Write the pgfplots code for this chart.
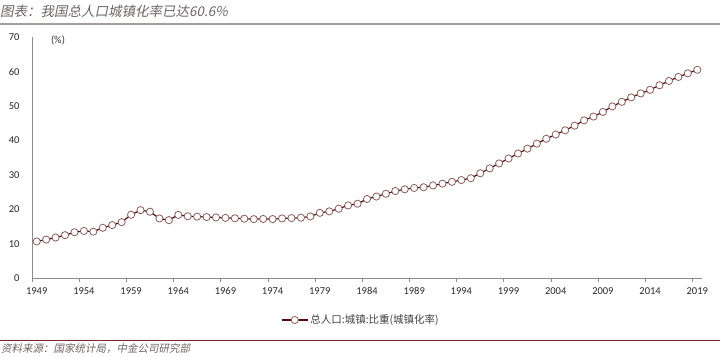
\documentclass[border=0pt]{standalone}
\usepackage{fontspec}
\setmainfont{Carlito}
\newfontfamily\cjk{Noto Sans CJK SC}
\newfontfamily\cjkit[FakeSlant=0.2]{Noto Sans CJK SC}
\usepackage{pgfplots}
\pgfplotsset{compat=1.18}
\definecolor{lineC}{HTML}{5A0A0A}
\definecolor{markC}{HTML}{8A5C5C}
\definecolor{axisC}{HTML}{8C8C8C}
\definecolor{titleC}{HTML}{6E6464}
\definecolor{ruleC}{HTML}{A89C9C}
\definecolor{srcRule}{HTML}{7A2A2A}
\pgfplotstableread{
year val
1949 10.64
1950 11.18
1951 11.78
1952 12.46
1953 13.31
1954 13.69
1955 13.48
1956 14.62
1957 15.39
1958 16.25
1959 18.41
1960 19.75
1961 19.29
1962 17.33
1963 16.84
1964 18.37
1965 17.98
1966 17.86
1967 17.74
1968 17.62
1969 17.50
1970 17.38
1971 17.26
1972 17.13
1973 17.20
1974 17.16
1975 17.34
1976 17.44
1977 17.55
1978 17.92
1979 18.96
1980 19.39
1981 20.16
1982 21.13
1983 21.62
1984 23.01
1985 23.71
1986 24.52
1987 25.32
1988 25.81
1989 26.21
1990 26.41
1991 26.94
1992 27.46
1993 27.99
1994 28.51
1995 29.04
1996 30.48
1997 31.91
1998 33.35
1999 34.78
2000 36.22
2001 37.66
2002 39.09
2003 40.53
2004 41.76
2005 42.99
2006 44.34
2007 45.89
2008 46.99
2009 48.34
2010 49.95
2011 51.27
2012 52.57
2013 53.73
2014 54.77
2015 56.10
2016 57.35
2017 58.52
2018 59.58
2019 60.60
}\urbdata
\begin{document}
\begin{tikzpicture}
\useasboundingbox (0pt,0pt) rectangle (720pt,356pt);
\node[anchor=west, inner sep=0pt, text=titleC, font=\cjkit\fontsize{13.5}{15}\selectfont] at (0pt,345pt) {图表：我国总人口城镇化率已达60.6\%};
\draw[ruleC, line width=1.6pt] (0pt,332pt) -- (720pt,332pt);
\draw[srcRule, line width=0.8pt] (0pt,16pt) -- (720pt,16pt);
\node[anchor=west, inner sep=0pt, text=titleC, font=\cjkit\fontsize{10.5}{12}\selectfont] at (1pt,7pt) {资料来源：国家统计局，中金公司研究部};
\node[font=\fontsize{10.5}{12}\selectfont, text=black!80] at (58pt,316pt) {(\%)};
\begin{axis}[
  at={(32pt,78pt)}, anchor=south west,
  scale only axis, width=670pt, height=240.5pt,
  xmin=1948.5, xmax=2019.5, ymin=0, ymax=70,
  axis lines=left, axis line style={-, axisC, line width=0.8pt},
  tick align=outside, major tick length=0pt, minor tick length=4pt,
  tick style={axisC, line width=0.8pt},
  xtick={1949,1954,...,2019},
  minor xtick={1948.5,1953.5,...,2018.5},
  ytick={0,10,...,70},
  minor ytick={},
  xticklabel={\pgfmathprintnumber[1000 sep={}]{\tick}},
  /pgf/number format/assume math mode=true,
  ticklabel style={font=\fontsize{10.5}{12}\selectfont, text=black!85},
  xticklabel style={yshift=-6pt},
  yticklabel style={xshift=-9pt},
  legend style={at={(0.491,-0.1746)}, anchor=center, draw=none, fill=none,
    font=\cjk\fontsize{10.5}{12}\selectfont, text=black!75, inner sep=0pt},
  legend image code/.code={\draw[#1, mark repeat=2, mark phase=2] plot coordinates {(0pt,0pt) (13pt,0pt) (26pt,0pt)};},
  clip=false,
]
\addplot[lineC, line width=1.2pt, mark=*, mark size=3.6pt,
  mark options={fill=white, draw=markC, line width=0.8pt}]
  table[x=year, y=val] {\urbdata};
\addlegendentry{总人口:城镇:比重(城镇化率)}
\end{axis}
\end{tikzpicture}
\end{document}
